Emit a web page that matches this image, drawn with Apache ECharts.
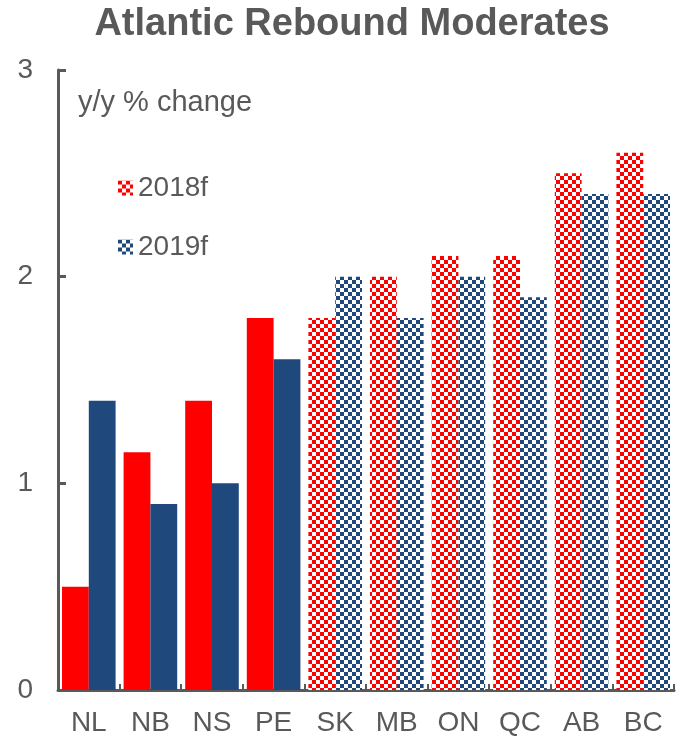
<!DOCTYPE html>
<html>
<head>
<meta charset="utf-8">
<script src="https://cdn.jsdelivr.net/npm/echarts@6/dist/echarts.min.js"></script>
<style>
  html, body { margin: 0; padding: 0; background: #fff; }
  #chart { width: 677px; height: 739px; }
</style>
</head>
<body>
<div id="chart"></div>
<script>
// Provinces and forecast growth (y/y % change)
const provinces = ['NL', 'NB', 'NS', 'PE', 'SK', 'MB', 'ON', 'QC', 'AB', 'BC'];
const growth2018 = [0.5, 1.15, 1.4, 1.8, 1.8, 2.0, 2.1, 2.1, 2.5, 2.6];
const growth2019 = [1.4, 0.9, 1.0, 1.6, 2.0, 1.8, 2.0, 1.9, 2.4, 2.4];
const yTicks = [0, 1, 2, 3];
// Atlantic provinces are drawn solid; the rest use a checkered fill
const solidCount = 4;

const RED = '#FF0000';
const BLUE = '#1F497D';
const GREY = '#595959';
const FONT = '"Liberation Sans", Arial, sans-serif';

function checker(color) {
  const c = document.createElement('canvas');
  const s = 4;
  c.width = s * 2; c.height = s * 2;
  const ctx = c.getContext('2d');
  ctx.fillStyle = '#ffffff';
  ctx.fillRect(0, 0, s * 2, s * 2);
  ctx.fillStyle = color;
  ctx.fillRect(0, 0, s, s);
  ctx.fillRect(s, s, s, s);
  return { image: c, repeat: 'repeat' };
}

function buildData(values, solidColor) {
  return values.map((v, i) => i < solidCount
    ? { value: v, itemStyle: { color: solidColor } }
    : { value: v });
}

const chart = echarts.init(document.getElementById('chart'), null, { renderer: 'canvas' });

chart.setOption({
  animation: false,
  backgroundColor: '#ffffff',
  title: {
    text: 'Atlantic Rebound Moderates',
    left: 352,
    textAlign: 'center',
    top: 6,
    padding: 0,
    textStyle: { fontFamily: FONT, fontSize: 38, fontWeight: 'bold', color: GREY }
  },
  graphic: [{
    type: 'text',
    left: 78,
    top: 88,
    style: { text: 'y/y % change', font: '29px ' + FONT, fill: GREY }
  }],
  legend: {
    orient: 'vertical',
    left: 113,
    top: 169,
    icon: 'rect',
    itemWidth: 15,
    itemHeight: 15,
    itemGap: 31,
    textStyle: { fontFamily: FONT, fontSize: 28, color: GREY, lineHeight: 28 },
    data: ['2018f', '2019f']
  },
  grid: { left: 58, right: 3, top: 70, bottom: 49, containLabel: false },
  xAxis: {
    type: 'category',
    data: provinces,
    axisLine: { lineStyle: { color: GREY, width: 3 } },
    axisTick: { show: true, inside: true, length: 6, alignWithLabel: false, lineStyle: { color: GREY, width: 2 } },
    axisLabel: { fontFamily: FONT, fontSize: 28, color: GREY, margin: 19 }
  },
  yAxis: {
    type: 'value',
    min: yTicks[0],
    max: yTicks[yTicks.length - 1],
    interval: 1,
    splitLine: { show: false },
    axisLine: { show: true, lineStyle: { color: GREY, width: 3 } },
    axisTick: { show: true, inside: true, length: 8, lineStyle: { color: GREY, width: 3 } },
    axisLabel: { fontFamily: FONT, fontSize: 28, color: GREY, margin: 25 }
  },
  series: [
    {
      name: '2018f',
      type: 'bar',
      data: buildData(growth2018, RED),
      itemStyle: { color: checker(RED) },
      barWidth: '43.5%',
      barGap: '0%'
    },
    {
      name: '2019f',
      type: 'bar',
      data: buildData(growth2019, BLUE),
      itemStyle: { color: checker(BLUE) },
      barWidth: '43.5%',
      barGap: '0%'
    }
  ]
});
</script>
</body>
</html>
